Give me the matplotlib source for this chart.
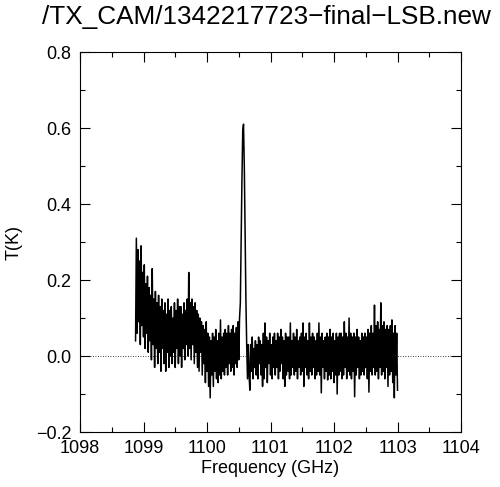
"""
Recreate the LSB spectrum plot (1342217723) from the TX_CAM pipeline
"""
import matplotlib
matplotlib.use("Agg")
import matplotlib.pyplot as plt
import numpy as np

title = "/TX_CAM/1342217723\u2212final\u2212LSB.new"

# channel grid of the spectrum (GHz)
f_start = 1098.875
f_step = 0.0125

# antenna temperature per channel (K), 16 channels per row
temp = [
    0.04, 0.31, 0.06, 0.28, 0.09, 0.25, 0.03, 0.29, 0.08, 0.22, 0.05, 0.24, 0.02, 0.19, 0.06, 0.21,
    0.01, 0.18, 0.04, 0.16, -0.01, 0.23, 0.03, 0.15, -0.03, 0.17, 0.02, 0.14, -0.02, 0.16, 0.01, 0.13,
    -0.04, 0.15, 0.02, 0.12, -0.02, 0.14, -0.04, 0.11, 0.01, 0.15, -0.03, 0.12, 0.00, 0.13, -0.02, 0.10,
    0.01, 0.14, -0.03, 0.12, 0.02, 0.15, -0.02, 0.13, 0.00, 0.13, -0.03, 0.11, 0.02, 0.14, -0.01, 0.12,
    0.03, 0.15, 0.00, 0.22, 0.02, 0.14, -0.01, 0.15, 0.03, 0.13, -0.02, 0.14, 0.01, 0.12, -0.03, 0.11,
    -0.04, 0.10, 0.01, 0.09, -0.05, 0.08, -0.02, 0.07, -0.07, 0.09, -0.04, 0.06, -0.08, 0.05, -0.11, 0.04,
    -0.05, 0.06, -0.08, 0.05, -0.04, 0.07, -0.06, 0.04, -0.07, 0.06, -0.05, 0.095, -0.06, 0.05, -0.04, 0.06,
    -0.05, 0.07, -0.03, 0.06, -0.05, 0.08, -0.02, 0.06, -0.04, 0.07, -0.03, 0.08, -0.05, 0.06, -0.02, 0.075,
    -0.03, 0.09, -0.01, 0.10, 0.14, 0.30, 0.46, 0.59, 0.61, 0.50, 0.33, 0.15, 0.03, -0.06, 0.03, -0.05,
    -0.09, 0.03, -0.04, 0.05, -0.06, 0.02, -0.03, 0.04, -0.05, 0.03, -0.06, 0.05, -0.02, 0.04, -0.05, 0.03,
    -0.08, 0.06, -0.06, 0.087, -0.03, 0.05, -0.07, 0.04, -0.02, 0.06, -0.05, 0.03, -0.06, 0.05, -0.03, 0.06,
    -0.05, 0.04, -0.03, 0.06, -0.06, 0.05, -0.04, 0.07, -0.02, 0.05, -0.06, 0.04, -0.08, 0.06, -0.05, 0.05,
    -0.04, 0.05, -0.06, 0.087, -0.05, 0.04, -0.03, 0.06, -0.05, 0.05, -0.04, 0.07, -0.06, 0.04, -0.03, 0.05,
    -0.05, 0.06, -0.04, 0.087, -0.08, 0.05, -0.03, 0.06, -0.05, 0.04, -0.06, 0.087, -0.04, 0.05, -0.05, 0.06,
    -0.03, 0.05, -0.06, 0.04, -0.05, 0.06, -0.04, 0.087, -0.05, 0.05, -0.097, 0.06, -0.03, 0.04, -0.06, 0.05,
    -0.04, 0.06, -0.063, 0.05, -0.05, 0.07, -0.06, 0.05, -0.04, 0.06, -0.07, 0.04, -0.05, 0.06, -0.10, 0.05,
    -0.05, 0.06, -0.04, 0.06, -0.06, 0.05, -0.05, 0.09, -0.03, 0.06, -0.06, 0.05, -0.04, 0.10, -0.05, 0.06,
    -0.06, 0.05, -0.04, 0.06, -0.107, 0.05, -0.05, 0.07, -0.03, 0.05, -0.06, 0.04, -0.05, 0.06, -0.04, 0.05,
    -0.05, 0.06, -0.03, 0.05, -0.06, 0.07, -0.095, 0.06, -0.04, 0.08, -0.05, 0.06, -0.03, 0.134, -0.05, 0.08,
    -0.04, 0.09, -0.06, 0.07, -0.03, 0.14, -0.05, 0.08, -0.04, 0.09, -0.06, 0.07, -0.03, 0.08, -0.08, 0.07,
    -0.05, 0.08, -0.04, 0.095, -0.07, 0.06, -0.11, 0.08, -0.05, 0.06, -0.09,
]

x_ticks = [1098, 1099, 1100, 1101, 1102, 1103, 1104]
y_ticks = [-0.2, 0.0, 0.2, 0.4, 0.6, 0.8]

plt.rcParams['font.family'] = ['Liberation Sans', 'DejaVu Sans']

freq = f_start + f_step * np.arange(len(temp))

fig = plt.figure(figsize=(5.0, 4.87), dpi=100)
ax = fig.add_axes([0.16, 0.1129, 0.762, 0.7803])

# zero level
ax.axhline(0.0, color='black', linestyle=(0, (1, 2)), linewidth=0.6)

# spectrum
ax.plot(freq, temp, color='black', linewidth=1.1)

ax.set_xlim(1098, 1104)
ax.set_ylim(-0.2, 0.8)
ax.set_xticks(x_ticks)
ax.set_xticks(np.arange(1098, 1104.01, 0.5), minor=True)
ax.set_yticks(y_ticks)
ax.set_yticks(np.arange(-0.2, 0.81, 0.1), minor=True)
ax.set_yticklabels(['\u22120.2', '0.0', '0.2', '0.4', '0.6', '0.8'])
ax.tick_params(which='both', direction='in', top=True, right=True,
               labelsize=13, width=0.8)
ax.tick_params(which='major', length=7, pad=6)
ax.tick_params(which='minor', length=3.5)
for s in ax.spines.values():
    s.set_linewidth(0.8)

ax.set_xlabel('Frequency (GHz)', fontsize=13, labelpad=2)
ax.set_ylabel('T(K)', fontsize=13, labelpad=10)
fig.text(0.084, 0.99, title, fontsize=18.8, ha='left', va='top')

plt.savefig('out.png', dpi=100)
